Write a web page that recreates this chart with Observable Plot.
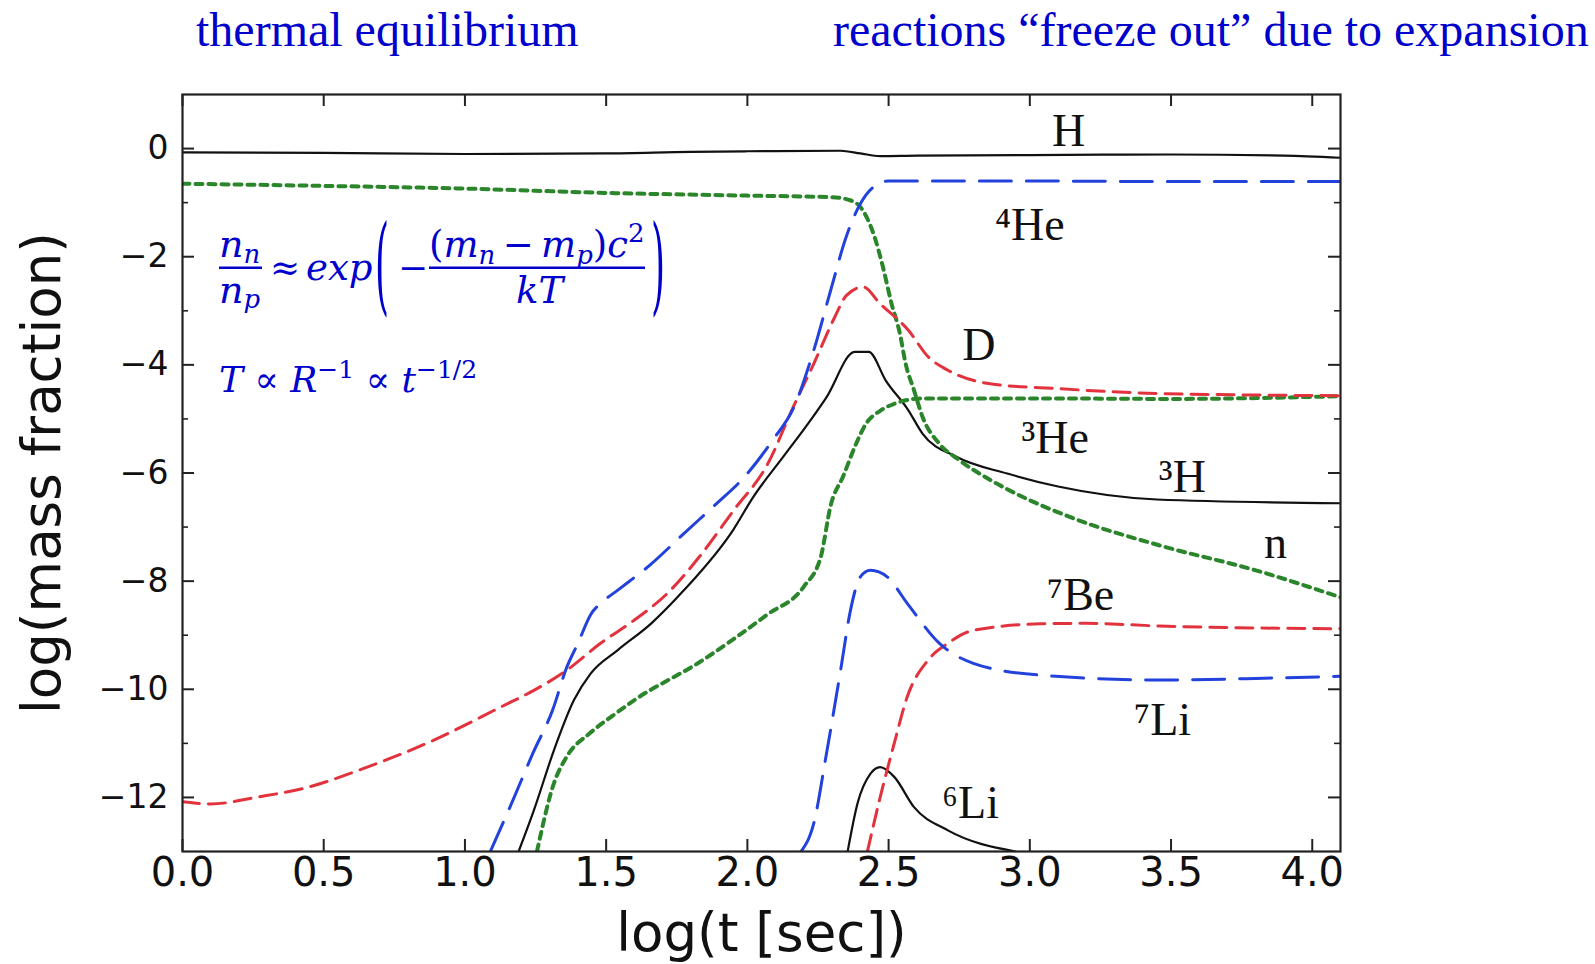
<!DOCTYPE html>
<html><head><meta charset="utf-8">
<script src="https://cdn.jsdelivr.net/npm/d3@7"></script>
<script src="https://cdn.jsdelivr.net/npm/@observablehq/plot@0.6"></script>
<style>
body{margin:0;background:#fff;}
#wrap{position:relative;width:1595px;height:964px;overflow:hidden;}
#head{position:relative;height:70px;width:1595px;font-family:"Liberation Serif","Times New Roman",serif;font-size:48px;color:#0000cc;line-height:48px;}
#head span{position:absolute;top:6px;white-space:nowrap;}
</style></head><body>
<div id="wrap">
<div id="head"><span style="left:196px">thermal equilibrium</span><span style="left:833px">reactions “freeze out” due to expansion</span></div>
<div id="chart"></div>
</div>
<script>
// ---- data (log t, log mass fraction) ----
const H   = [[0,-0.07],[0.5,-0.08],[1.0,-0.1],[1.5,-0.09],[1.8,-0.06],[2.0,-0.05],[2.33,-0.04],[2.4,-0.09],[2.47,-0.14],[2.6,-0.13],[3.0,-0.12],[3.5,-0.11],[3.9,-0.13],[4.1,-0.17]];
const He4 = [[1.09,-13],[1.17,-12.05],[1.24,-11.19],[1.31,-10.39],[1.36,-9.6],[1.40,-9.15],[1.445,-8.62],[1.49,-8.37],[1.54,-8.17],[1.66,-7.68],[1.775,-7.12],[1.89,-6.57],[1.99,-6.07],[2.09,-5.39],[2.165,-4.78],[2.235,-3.73],[2.295,-2.62],[2.35,-1.63],[2.40,-1.02],[2.44,-0.74],[2.5,-0.6],[3.0,-0.6],[3.5,-0.61],[4.1,-0.61]];
const D   = [[0,-12.08],[0.1,-12.12],[0.27,-11.99],[0.43,-11.83],[0.654,-11.44],[0.89,-10.94],[1.126,-10.33],[1.244,-10.02],[1.36,-9.65],[1.48,-9.15],[1.60,-8.72],[1.716,-8.23],[1.83,-7.55],[1.95,-6.7],[2.07,-5.85],[2.165,-4.75],[2.235,-3.98],[2.31,-3.11],[2.35,-2.72],[2.41,-2.56],[2.47,-2.87],[2.57,-3.36],[2.64,-3.85],[2.71,-4.1],[2.86,-4.35],[3.10,-4.44],[3.46,-4.53],[4.1,-4.57]];
const H3  = [[1.19,-13],[1.244,-12.24],[1.315,-11.13],[1.386,-10.2],[1.445,-9.71],[1.54,-9.28],[1.66,-8.78],[1.775,-8.17],[1.95,-7.05],[2.02,-6.45],[2.13,-5.68],[2.22,-5.05],[2.28,-4.6],[2.38,-3.76],[2.43,-3.76],[2.49,-4.29],[2.57,-4.84],[2.62,-5.27],[2.74,-5.7],[2.92,-6.01],[3.1,-6.25],[3.45,-6.49],[4.1,-6.56]];
const He3 = [[1.255,-13],[1.315,-11.74],[1.36,-11.25],[1.445,-10.8],[1.52,-10.5],[1.60,-10.2],[1.83,-9.5],[2.07,-8.62],[2.2,-8.1],[2.26,-7.55],[2.295,-6.6],[2.34,-6.05],[2.38,-5.52],[2.42,-5.09],[2.47,-4.85],[2.52,-4.72],[2.62,-4.62],[3.0,-4.62],[3.5,-4.63],[4.1,-4.58]];
const N   = [[0,-0.65],[0.5,-0.69],[1.0,-0.74],[1.5,-0.82],[2.0,-0.87],[2.3,-0.9],[2.36,-0.95],[2.40,-1.08],[2.45,-1.63],[2.48,-2.19],[2.51,-2.86],[2.54,-3.42],[2.56,-3.97],[2.59,-4.47],[2.62,-4.96],[2.68,-5.46],[2.75,-5.76],[2.86,-6.13],[2.92,-6.3],[3.16,-6.85],[3.46,-7.34],[3.8,-7.8],[4.1,-8.3]];
const Li7 = [[2.19,-13],[2.235,-12.48],[2.28,-11.19],[2.33,-9.65],[2.365,-8.54],[2.40,-7.92],[2.436,-7.8],[2.495,-7.92],[2.566,-8.41],[2.68,-9.15],[2.80,-9.52],[3.04,-9.74],[3.46,-9.83],[3.8,-9.8],[4.1,-9.76]];
const Be7 = [[2.425,-13],[2.47,-12.0],[2.52,-11.0],[2.566,-10.14],[2.64,-9.46],[2.71,-9.15],[2.80,-8.91],[3.04,-8.79],[3.2,-8.78],[3.46,-8.83],[4.1,-8.88]];
const Li6 = [[2.355,-13],[2.39,-12.11],[2.436,-11.56],[2.47,-11.44],[2.52,-11.62],[2.59,-12.18],[2.71,-12.61],[2.95,-13]];

const labelNames = ["H","\u2074He","D","\u00B3He","\u00B3H","n","\u2077Be","\u2077Li","\u2076Li"];
const labelT     = [3.137, 3.0, 2.82, 3.09, 3.54, 3.87, 3.18, 3.47, 2.79];
const labelY     = [0.32, -1.42, -3.64, -5.35, -6.07, -7.3, -8.27, -10.58, -12.11];

const xTicks = [0,0.5,1,1.5,2,2.5,3,3.5,4];
const yMajor = [0,-2,-4,-6,-8,-10,-12];
const yMinor = [-1,-3,-5,-7,-9,-11];

// ---- styles ----
const BLACK="#111", BLUE="#2342dc", RED="#e2323d", GREEN="#2b862b";
const series = [
  {d:H,   stroke:BLACK, dash:null,   sw:2.2},
  {d:H3,  stroke:BLACK, dash:null,   sw:2.2},
  {d:Li6, stroke:BLACK, dash:null,   sw:2.2},
  {d:N,   stroke:GREEN, dash:"7,6",  sw:4},
  {d:He3, stroke:GREEN, dash:"7,6",  sw:4},
  {d:D,   stroke:RED,   dash:"17,9", sw:3},
  {d:Be7, stroke:RED,   dash:"17,9", sw:3},
  {d:He4, stroke:BLUE,  dash:"32,15",sw:3},
  {d:Li7, stroke:BLUE,  dash:"32,15",sw:3}
];

const W=1595, Ht=894, mT=24, mB=113, mL=182, mR=255;
const fw=W-mL-mR, fh=Ht-mT-mB;
const labels = labelNames.map((name,i)=>({name, t:labelT[i], y:labelY[i]}));
const fmtY = d => d<0 ? "\u2212"+(-d) : String(d);

const chart = Plot.plot({
  width: W, height: Ht,
  marginTop: mT, marginBottom: mB, marginLeft: mL, marginRight: mR,
  style: {background:"#fff", overflow:"visible"},
  x: {domain:[0,4.1]},
  y: {domain:[-13,1]},
  marks: [
    ...series.map(s => Plot.line(s.d, {x:d=>d[0], y:d=>d[1], stroke:s.stroke, strokeWidth:s.sw, strokeDasharray:s.dash, curve:"monotone-x", clip:true})),
    Plot.frame({stroke:"#222", strokeWidth:2.2}),
    Plot.ruleX(xTicks, {insetTop: fh-12, stroke:"#222", strokeWidth:2}),
    Plot.ruleX(xTicks, {insetBottom: fh-12, stroke:"#222", strokeWidth:2}),
    Plot.ruleY(yMajor, {insetRight: fw-12, stroke:"#222", strokeWidth:2}),
    Plot.ruleY(yMajor, {insetLeft: fw-12, stroke:"#222", strokeWidth:2}),
    Plot.ruleY(yMinor, {insetRight: fw-6, stroke:"#222", strokeWidth:1.6}),
    Plot.ruleY(yMinor, {insetLeft: fw-6, stroke:"#222", strokeWidth:1.6}),
    Plot.axisX({ticks:xTicks, tickSize:0, tickPadding:6, tickFormat:d3.format(".1f"), fontSize:40, fontFamily:"DejaVu Sans", fill:"#111", label:null}),
    Plot.axisY({ticks:yMajor, tickSize:0, tickPadding:14, tickFormat:fmtY, fontSize:33, fontFamily:"DejaVu Sans", fill:"#111", label:null}),
    Plot.text(labels, {x:"t", y:"y", text:"name", fontFamily:"Liberation Serif", fontSize:46, fill:"#111"}),
    Plot.text(["log(t [sec])"], {text:d=>d, frameAnchor:"bottom", lineAnchor:"middle", textAnchor:"middle", dy:83, fontSize:53, fontFamily:"DejaVu Sans", fill:"#111"}),
    Plot.text(["log(mass fraction)"], {text:d=>d, frameAnchor:"left", textAnchor:"middle", lineAnchor:"middle", dx:-139, rotate:-90, fontSize:53, fontFamily:"DejaVu Sans", fill:"#111"})
  ]
});
document.getElementById("chart").append(chart);

// ---- formula annotations (blue, math style) ----
const FBLUE = "#0000cc";
const sx = chart.scale("x"), sy = chart.scale("y");
const svg = d3.select(chart);
function txt(g, x, y, parts, size){
  const t = g.append("text").attr("x",x).attr("y",y).attr("font-size",size).attr("text-anchor","start");
  for (const p of parts){
    const sp = t.append("tspan").text(p.s);
    if (p.it) sp.attr("font-style","italic");
    if (p.size) sp.attr("font-size",p.size);
    if (p.dy) sp.attr("dy",p.dy);
  }
  return t;
}
const g1 = svg.append("g")
  .attr("transform", `translate(${sx.apply(0.131)},${sy.apply(-2.44)})`)
  .attr("fill", FBLUE).attr("font-family","DejaVu Serif").attr("text-anchor","start");
txt(g1, 0, -23, [{s:"n",it:1},{s:"n",it:1,size:26,dy:6}], 38);
g1.append("rect").attr("x",0).attr("y",-13.5).attr("width",43).attr("height",2.5);
txt(g1, 0, 23, [{s:"n",it:1},{s:"p",it:1,size:26,dy:5}], 38);
txt(g1, 51, 0, [{s:"\u2248"}], 36);
txt(g1, 87, 0, [{s:"exp",it:1}], 37);
g1.append("g").attr("transform","translate(156,-12.5) scale(1,2.95)")
  .append("text").attr("x",0).attr("y",11.3).attr("font-size",36).attr("text-anchor","start").text("(");
txt(g1, 179, 0, [{s:"\u2212"}], 36);
txt(g1, 210, -23, [
  {s:"("},{s:"m",it:1},{s:"n",it:1,size:26,dy:7},{s:"\u2009\u2212\u2009",dy:-7},{s:"m",it:1},{s:"p",it:1,size:26,dy:7},{s:")",dy:-7},{s:"c",it:1},{s:"2",size:26,dy:-15}
], 37);
g1.append("rect").attr("x",210).attr("y",-13.5).attr("width",216).attr("height",2.5);
txt(g1, 297, 23, [{s:"kT",it:1}], 37);
g1.append("g").attr("transform","translate(432,-12.5) scale(1,2.95)")
  .append("text").attr("x",0).attr("y",11.3).attr("font-size",36).attr("text-anchor","start").text(")");

const g2 = svg.append("g")
  .attr("transform", `translate(${sx.apply(0.131)},${sy.apply(-4.51)})`)
  .attr("fill", FBLUE).attr("font-family","DejaVu Serif").attr("text-anchor","start");
txt(g2, 0, 0, [
  {s:"T",it:1},{s:" \u221D "},{s:"R",it:1},{s:"\u22121",size:25,dy:-14},{s:" \u221D ",dy:14},{s:"t",it:1},{s:"\u22121/2",size:25,dy:-14}
], 36);
</script>
</body></html>
